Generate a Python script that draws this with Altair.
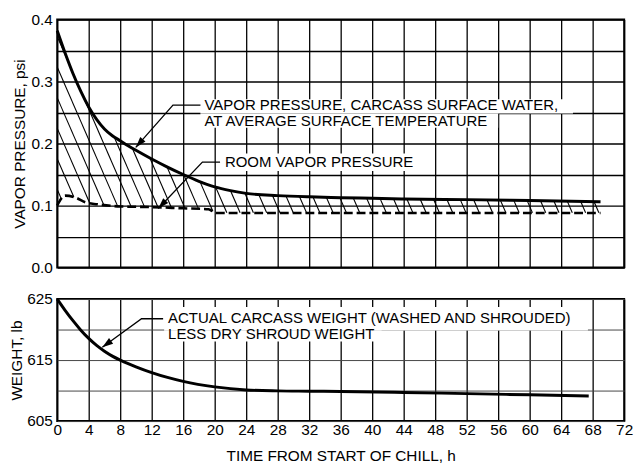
import math
import altair as alt
import numpy as np
import pandas as pd

W, H1, H2 = 576, 252, 124
FONT = "Liberation Sans"
FS = 15.6
FS_NOTE = 15.2

# ---- data ----
# vapour pressure of carcass surface water (psi) vs hours
surf_h = [0, 1, 2, 3, 4, 5, 6, 7, 8, 9, 10, 12, 14, 16, 18, 20, 22, 24, 28, 32, 36, 40, 44, 52, 60, 69]
surf_p = [0.382, 0.346, 0.313, 0.284, 0.259, 0.239, 0.2235, 0.2125, 0.2045, 0.1965, 0.189, 0.175,
          0.162, 0.150, 0.139, 0.130, 0.124, 0.1196, 0.116, 0.114, 0.1127, 0.1116, 0.1106,
          0.1095, 0.108, 0.106]
# room vapour pressure (psi)
room_h = [0, 0.5, 1.0, 2.3, 3.6, 5.1, 8, 12, 16, 19.2, 20.2, 25, 35, 45, 55, 69]
room_p = [0.100, 0.111, 0.116, 0.113, 0.105, 0.102, 0.0985, 0.0975, 0.0955, 0.094, 0.088,
          0.088, 0.088, 0.088, 0.088, 0.088]
# carcass weight (lb)
wt_h = [0, 1, 2, 3, 4, 5, 6, 7, 8, 10, 12, 14, 16, 20, 24, 28, 32, 36, 44, 52, 60, 67.5]
wt_lb = [625, 623.15, 621.45, 619.9, 618.55, 617.4, 616.45, 615.65, 615.0, 613.9, 612.95, 612.15,
         611.5, 610.6, 610.1, 609.95, 609.9, 609.85, 609.7, 609.5, 609.3, 609.1]

x_ticks = list(range(0, 73, 4))
p_ticks = [round(0.05 * i, 2) for i in range(9)]
lb_ticks = [605, 610, 615, 620, 625]

# annotations (data units)
top_lines = ["VAPOR PRESSURE, CARCASS SURFACE WATER,", "AT AVERAGE SURFACE TEMPERATURE"]
top_text_h = [18.7, 18.7]
top_text_p = [0.2619, 0.2365]
room_line = ["ROOM VAPOR PRESSURE"]
room_text_h = [21.3]
room_text_p = [0.170]
wt_lines = ["ACTUAL CARCASS WEIGHT (WASHED AND SHROUDED)", "LESS DRY SHROUD WEIGHT"]
wt_text_h = [14.08, 14.08]
wt_text_lb = [621.85, 619.27]

# white boxes behind labels
top_box_h = [18.19, 18.19, 20.8]
top_box_h2 = [65.5, 56.0, 46.5]
top_box_p = [0.2714, 0.2484, 0.1841]
top_box_p2 = [0.2484, 0.2254, 0.1556]
wt_box_h = [13.58, 13.58]
wt_box_h2 = [67.4, 41.2]
wt_box_lb = [623.71, 619.84]
wt_box_lb2 = [619.84, 618.06]

# leader polylines: tip -> elbow -> end
lead_top_h = [[9.97, 14.7, 18.19], [12.83, 18.44, 20.68]]
lead_top_p = [[0.1937, 0.262, 0.262], [0.0952, 0.170, 0.170]]
lead_wt_h = [[5.73, 10.71, 13.45]]
lead_wt_lb = [[617.1, 621.77, 621.77]]

# ---- helpers ----
def px_top(h, p):
    return h * W / 72.0, (0.4 - p) * H1 / 0.4

def px_bot(h, lb):
    return h * W / 72.0, (625 - lb) * H2 / 20.0

def angle(tip, elbow):
    dx = tip[0] - elbow[0]
    dy = tip[1] - elbow[1]
    return math.degrees(math.atan2(dx, -dy)) % 360

# hatching between the two curves
slope = 2.3
spacing = 13.5
rows = []
uh, up = np.array(surf_h), np.array(surf_p)
rh, rp = np.array(room_h), np.array(room_p)
py = np.arange(0, H1 + 0.01, 0.2)
for c in np.arange(-H1 / slope - 6, W, spacing):
    pxs = c + py / slope
    hh = pxs * 72.0 / W
    pp = 0.4 - py * 0.4 / H1
    ins = (hh >= 0) & (hh <= 69) & (pp <= np.interp(hh, uh, up)) & (pp >= np.interp(hh, rh, rp))
    if not ins.any():
        continue
    idx = np.where(ins)[0]
    splits = np.where(np.diff(idx) > 1)[0]
    starts = np.concatenate([[idx[0]], idx[splits + 1]])
    ends = np.concatenate([idx[splits], [idx[-1]]])
    for s, e in zip(starts, ends):
        if e - s < 2:
            continue
        rows.append({"h": hh[s], "p": pp[s], "h2": hh[e], "p2": pp[e]})
hatch_df = pd.DataFrame(rows)

arrow_path = "M0,0 L-0.32,1 L0.32,1 Z"

# ---- top panel ----
xs_top = alt.Scale(domain=[0, 72], nice=False, zero=False)
ys_top = alt.Scale(domain=[0, 0.4], nice=False)
x_axis_top = alt.Axis(values=x_ticks, labels=False, ticks=False, domain=False, title=None,
                      grid=True, gridColor="black", gridWidth=1.3)
y_axis_top = alt.Axis(values=p_ticks, ticks=False, domain=False, grid=True, gridColor="black",
                      gridWidth=1.3, labelPadding=5, titlePadding=4, labelOverlap=False,
                      labelFlush=False,
                      labelExpr="round(datum.value*20) % 2 == 0 ? format(datum.value, '.1f') : ''",
                      title="VAPOR PRESSURE, psi")
X1 = alt.X("h:Q", scale=xs_top, axis=x_axis_top)
Y1 = alt.Y("p:Q", scale=ys_top, axis=y_axis_top)

box_top_df = pd.DataFrame({"h": top_box_h, "h2": top_box_h2, "p": top_box_p, "p2": top_box_p2})
boxes_top = alt.Chart(box_top_df).mark_rect(color="white").encode(
    x=X1, x2="h2:Q", y=Y1, y2="p2:Q")

hatch = alt.Chart(hatch_df).mark_rule(color="black", strokeWidth=1.1).encode(
    x=X1, y=Y1, x2="h2:Q", y2="p2:Q")

surf = alt.Chart(pd.DataFrame({"h": surf_h, "p": surf_p})).mark_line(
    color="black", strokeWidth=3, interpolate="monotone").encode(x=X1, y=Y1)
room = alt.Chart(pd.DataFrame({"h": room_h, "p": room_p})).mark_line(
    color="black", strokeWidth=2.6, strokeDash=[9, 4], interpolate="monotone").encode(x=X1, y=Y1)

lrows = []
arows = []
for i, (hs, ps) in enumerate(zip(lead_top_h, lead_top_p)):
    for k, (a, b) in enumerate(zip(hs, ps)):
        lrows.append({"id": i, "k": k, "h": a, "p": b})
    arows.append({"h": hs[0], "p": ps[0],
                  "ang": angle(px_top(hs[0], ps[0]), px_top(hs[1], ps[1]))})
leaders_top = alt.Chart(pd.DataFrame(lrows)).mark_line(color="black", strokeWidth=1.3).encode(
    x=X1, y=Y1, detail="id:N", order="k:Q")
arrows_top = alt.Chart(pd.DataFrame(arows)).mark_point(
    shape=arrow_path, filled=True, color="black", size=484, opacity=1).encode(
    x=X1, y=Y1, angle=alt.Angle("ang:Q", scale=None))

txt_top_df = pd.DataFrame({"h": top_text_h + room_text_h, "p": top_text_p + room_text_p,
                           "label": top_lines + room_line})
texts_top = alt.Chart(txt_top_df).mark_text(
    align="left", baseline="middle", font=FONT, fontSize=FS_NOTE, color="black").encode(
    x=X1, y=Y1, text="label:N")

top = alt.layer(boxes_top, hatch, room, surf, leaders_top, arrows_top, texts_top).properties(
    width=W, height=H1)

# ---- bottom panel ----
x_axis_bot = alt.Axis(values=x_ticks, ticks=False, domain=False, grid=True, gridColor="black",
                      gridWidth=1.3, labelPadding=2, labelFlush=False,
                      labelOverlap=False, titlePadding=10, title="TIME FROM START OF CHILL, h")
y_axis_bot = alt.Axis(values=lb_ticks, ticks=False, domain=False, grid=True, gridColor="#444",
                      gridWidth=1, labelPadding=5, titlePadding=2, labelOverlap=False,
                      labelFlush=False,
                      labelExpr="(datum.value - 605) % 10 == 0 ? datum.label : ''",
                      title="WEIGHT, lb")
X2 = alt.X("h:Q", scale=alt.Scale(domain=[0, 72], nice=False, zero=False), axis=x_axis_bot)
Y2 = alt.Y("lb:Q", scale=alt.Scale(domain=[605, 625], nice=False, zero=False), axis=y_axis_bot)

box_wt_df = pd.DataFrame({"h": wt_box_h, "h2": wt_box_h2, "lb": wt_box_lb, "lb2": wt_box_lb2})
boxes_wt = alt.Chart(box_wt_df).mark_rect(color="white").encode(
    x=X2, x2="h2:Q", y=Y2, y2="lb2:Q")
wt = alt.Chart(pd.DataFrame({"h": wt_h, "lb": wt_lb})).mark_line(
    color="black", strokeWidth=3, interpolate="monotone").encode(x=X2, y=Y2)

lrows2 = []
arows2 = []
for i, (hs, ls) in enumerate(zip(lead_wt_h, lead_wt_lb)):
    for k, (a, b) in enumerate(zip(hs, ls)):
        lrows2.append({"id": i, "k": k, "h": a, "lb": b})
    arows2.append({"h": hs[0], "lb": ls[0],
                   "ang": angle(px_bot(hs[0], ls[0]), px_bot(hs[1], ls[1]))})
leaders_wt = alt.Chart(pd.DataFrame(lrows2)).mark_line(color="black", strokeWidth=1.3).encode(
    x=X2, y=Y2, detail="id:N", order="k:Q")
arrows_wt = alt.Chart(pd.DataFrame(arows2)).mark_point(
    shape=arrow_path, filled=True, color="black", size=484, opacity=1).encode(
    x=X2, y=Y2, angle=alt.Angle("ang:Q", scale=None))
texts_wt = alt.Chart(pd.DataFrame({"h": wt_text_h, "lb": wt_text_lb, "label": wt_lines})).mark_text(
    align="left", baseline="middle", font=FONT, fontSize=FS_NOTE, color="black").encode(
    x=X2, y=Y2, text="label:N")

bottom = alt.layer(boxes_wt, wt, leaders_wt, arrows_wt, texts_wt).properties(width=W, height=H2)

chart = alt.vconcat(top, bottom, spacing=32, bounds="flush").properties(
    padding={"left": 0, "top": 0, "right": 0, "bottom": 0}
).configure_view(stroke="black", strokeWidth=2).configure_axis(
    labelFont=FONT, labelFontSize=FS, labelColor="black",
    titleFont=FONT, titleFontSize=FS, titleFontWeight="normal", titleColor="black",
    gridOpacity=1
)

chart.save("out.html", embed_options={"renderer": "svg", "actions": False})
